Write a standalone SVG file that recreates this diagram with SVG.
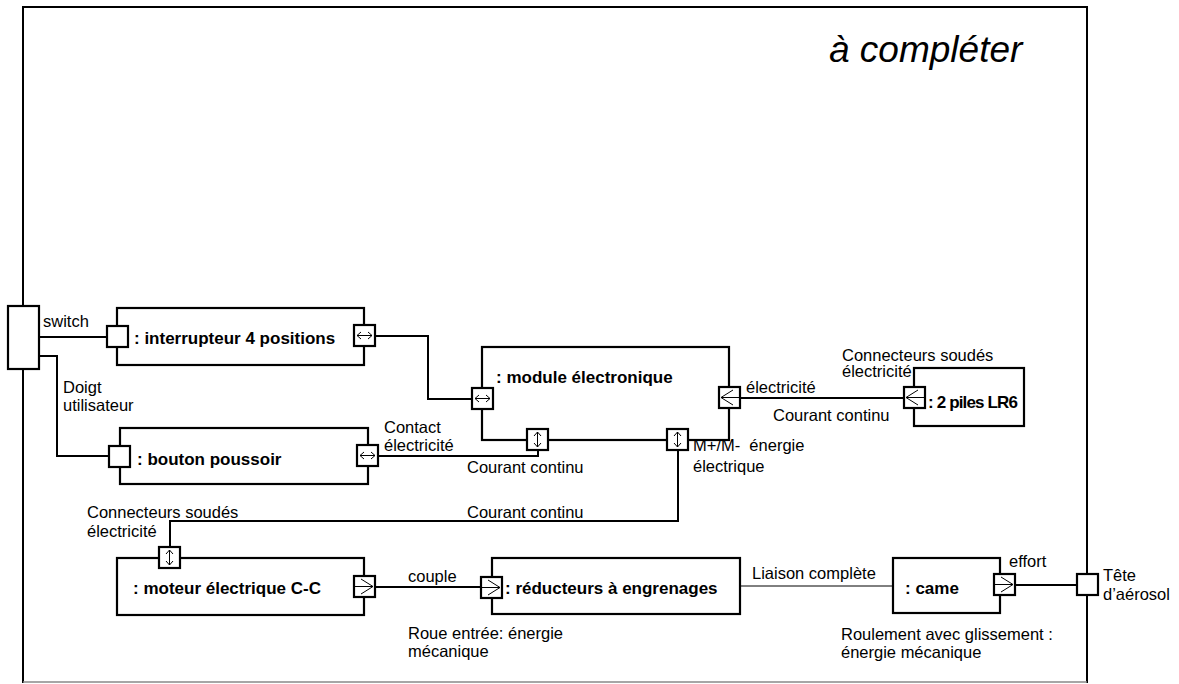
<svg xmlns="http://www.w3.org/2000/svg" width="1179" height="684" viewBox="0 0 1179 684">
<style>
.bg{fill:#fff}
.frame{fill:none;stroke:#000;stroke-width:2}
.frameb{fill:none;stroke:#888;stroke-width:1.5}
.box{fill:#fff;stroke:#000;stroke-width:2.2}
.arr{fill:none;stroke:#000;stroke-width:1}
.conn{fill:none;stroke:#000;stroke-width:2}
.thin{fill:none;stroke:#000;stroke-width:1}
text{font-family:"Liberation Sans",Arial,sans-serif;fill:#000}
.t{font-size:16.5px}
.b{font-size:17px;font-weight:bold}
.title{font-size:37px;font-style:italic}
</style>
<defs>
<g id="p-plain"><rect class="box" x="0" y="0" width="21" height="21"/></g>
<g id="p-bi-h"><rect class="box" x="0" y="0" width="21" height="21"/><path class="arr" d="M3,10.5H18M7,7L3,10.5L7,14M14,7L18,10.5L14,14"/></g>
<g id="p-bi-v"><rect class="box" x="0" y="0" width="21" height="21"/><path class="arr" d="M10.5,3V18M7,7L10.5,3L14,7M7,14L10.5,18L14,14"/></g>
<g id="p-in-l"><rect class="box" x="0" y="0" width="21" height="21"/><path class="arr" d="M21,10.5H2M14,3L2,10.5L14,18"/></g>
<g id="p-out-r"><rect class="box" x="0" y="0" width="21" height="21"/><path class="arr" d="M0,10.5H19M7,3L19,10.5L7,18"/></g>
</defs>
<rect class="bg" x="0" y="0" width="1179" height="684"/>
<g id="frame">
<path class="frame" d="M23,683V7H1087V683"/>
<line class="frameb" x1="23" y1="682" x2="1087" y2="682"/>
<text class="title" x="829" y="62">à compléter</text>
</g>
<g id="connectors">
<path class="conn" d="M39,337H107"/>
<path class="conn" d="M39,356H57V456H109"/>
<path class="conn" d="M375,336H428V399H472"/>
<path class="conn" d="M378,456H538V451"/>
<path class="conn" d="M678,451V521H170V547"/>
<path class="conn" d="M740,398H904"/>
<path class="conn" d="M375,587H481"/>
<path class="thin" d="M740,586H893"/>
<path class="conn" d="M1015,585H1077"/>
</g>
<g id="labels">
<text class="t" x="43" y="327">switch</text>
<text class="t" x="63" y="393">Doigt</text>
<text class="t" x="63" y="411">utilisateur</text>
<text class="t" x="384" y="433">Contact</text>
<text class="t" x="384" y="451">électricité</text>
<text class="t" x="467" y="473">Courant continu</text>
<text class="t" x="693" y="451" xml:space="preserve">M+/M-  énergie</text>
<text class="t" x="693" y="472">électrique</text>
<text class="t" x="467" y="518">Courant continu</text>
<text class="t" x="746" y="393">électricité</text>
<text class="t" x="773" y="421">Courant continu</text>
<text class="t" x="842" y="361">Connecteurs soudés</text>
<text class="t" x="842" y="377">électricité</text>
<text class="t" x="87" y="518">Connecteurs soudés</text>
<text class="t" x="87" y="537">électricité</text>
<text class="t" x="408" y="582">couple</text>
<text class="t" x="408" y="639">Roue entrée: énergie</text>
<text class="t" x="408" y="657">mécanique</text>
<text class="t" x="752" y="579">Liaison complète</text>
<text class="t" x="1009" y="567">effort</text>
<text class="t" x="1103" y="581">Tête</text>
<text class="t" x="1103" y="600">d’aérosol</text>
<text class="t" x="841" y="640">Roulement avec glissement :</text>
<text class="t" x="841" y="658">énergie mécanique</text>
</g>
<g id="switch">
<rect class="box" x="8" y="306" width="31" height="63"/>
</g>
<g id="interrupteur">
<rect class="box" x="117" y="308" width="247" height="57"/>
<use href="#p-plain" x="107" y="326"/>
<use href="#p-bi-h" x="354" y="325"/>
<text class="b" x="134" y="344">: interrupteur 4 positions</text>
</g>
<g id="bouton">
<rect class="box" x="120" y="428" width="248" height="56"/>
<use href="#p-plain" x="109" y="446"/>
<use href="#p-bi-h" x="357" y="445"/>
<text class="b" x="137" y="465">: bouton poussoir</text>
</g>
<g id="module">
<rect class="box" x="482" y="347" width="247" height="93"/>
<use href="#p-bi-h" x="472" y="388"/>
<use href="#p-bi-v" x="527" y="429"/>
<use href="#p-bi-v" x="667" y="429"/>
<use href="#p-in-l" x="719" y="387"/>
<text class="b" x="496" y="383">: module électronique</text>
</g>
<g id="piles">
<rect class="box" x="914" y="368" width="110" height="58"/>
<use href="#p-in-l" x="904" y="387"/>
<text class="b" x="928" y="408" textLength="90" lengthAdjust="spacing">: 2 piles LR6</text>
</g>
<g id="moteur">
<rect class="box" x="117" y="558" width="247" height="57"/>
<use href="#p-bi-v" x="159" y="547"/>
<use href="#p-out-r" x="354" y="576"/>
<text class="b" x="133" y="594">: moteur électrique C-C</text>
</g>
<g id="reducteur">
<rect class="box" x="492" y="558" width="248" height="56"/>
<use href="#p-out-r" x="481" y="577"/>
<text class="b" x="505" y="594">: réducteurs à engrenages</text>
</g>
<g id="came">
<rect class="box" x="893" y="558" width="107" height="55"/>
<use href="#p-out-r" x="994" y="574"/>
<text class="b" x="905" y="594">: came</text>
</g>
<g id="tete">
<use href="#p-plain" x="1077" y="574"/>
</g>
</svg>
